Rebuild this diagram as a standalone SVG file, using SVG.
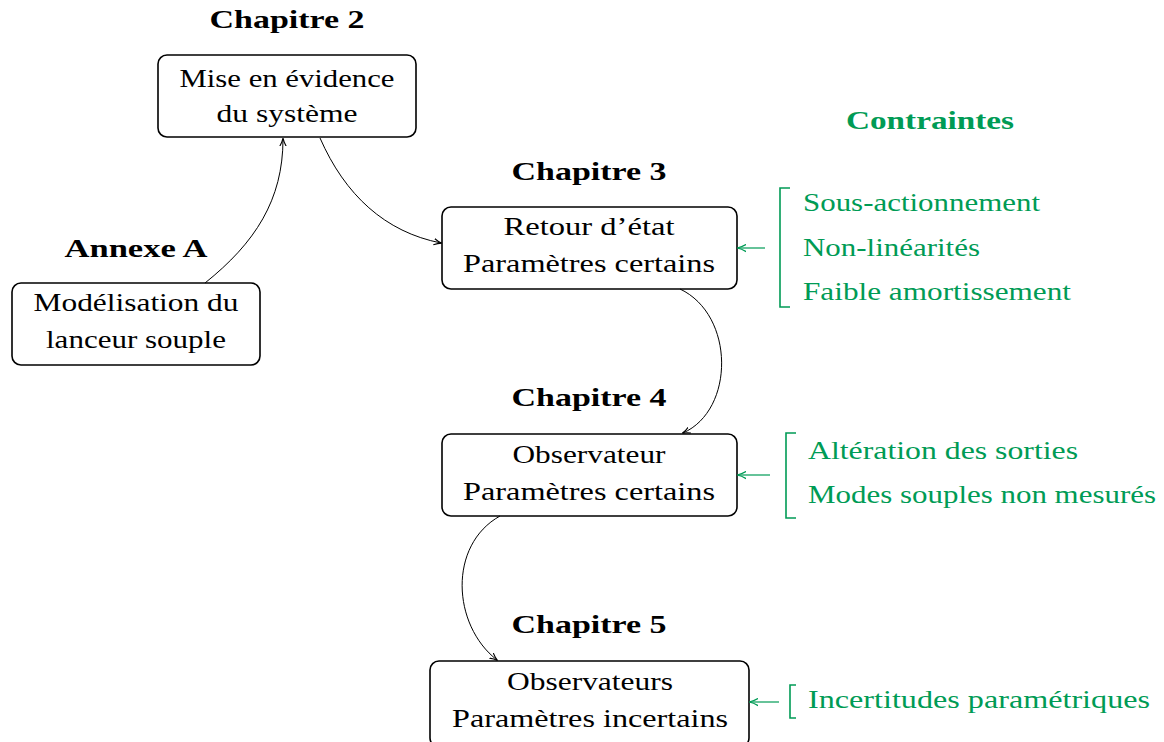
<svg xmlns="http://www.w3.org/2000/svg" width="1164" height="742" viewBox="0 0 1164 742">
<style>
.box{fill:#fff;stroke:#000;stroke-width:1.6}
.t{font-family:"Liberation Serif","DejaVu Serif",serif;font-size:25px;fill:#000}
.h{font-family:"Liberation Serif","DejaVu Serif",serif;font-size:25px;font-weight:bold;fill:#000}
.g{font-family:"Liberation Serif","DejaVu Serif",serif;font-size:25px;fill:#009B55}
.gh{font-family:"Liberation Serif","DejaVu Serif",serif;font-size:25px;font-weight:bold;fill:#009B55}
.c{fill:none;stroke:#000;stroke-width:1}
.gl{fill:none;stroke:#009B55;stroke-width:1.6}
.ga{fill:none;stroke:#009B55;stroke-width:1.2}
</style>
<defs>
<marker id="ah" viewBox="0 0 10 10" refX="9" refY="5" markerWidth="8" markerHeight="8" markerUnits="userSpaceOnUse" orient="auto">
<path d="M0,1 Q5,4 10,5 Q5,6 0,9" fill="none" stroke="#000" stroke-width="1.4"/>
</marker>
<marker id="gah" viewBox="0 0 10 10" refX="9" refY="5" markerWidth="9" markerHeight="9" markerUnits="userSpaceOnUse" orient="auto">
<path d="M0,1 Q5,4 10,5 Q5,6 0,9" fill="none" stroke="#009B55" stroke-width="1.4"/>
</marker>
</defs>

<text class="gh" x="930" y="129" text-anchor="middle" textLength="168" lengthAdjust="spacingAndGlyphs">Contraintes</text>

<g id="ch2">
<text class="h" x="287" y="28" text-anchor="middle" textLength="155" lengthAdjust="spacingAndGlyphs">Chapitre 2</text>
<rect class="box" x="158" y="55" width="258" height="82" rx="9"/>
<text class="t" x="287" y="87" text-anchor="middle" textLength="215" lengthAdjust="spacingAndGlyphs">Mise en évidence</text>
<text class="t" x="287" y="122" text-anchor="middle" textLength="141" lengthAdjust="spacingAndGlyphs">du système</text>
</g>

<g id="annexeA">
<text class="h" x="136" y="257" text-anchor="middle" textLength="143" lengthAdjust="spacingAndGlyphs">Annexe A</text>
<rect class="box" x="12" y="283" width="248" height="82" rx="9"/>
<text class="t" x="136" y="311" text-anchor="middle" textLength="205" lengthAdjust="spacingAndGlyphs">Modélisation du</text>
<text class="t" x="136" y="348" text-anchor="middle" textLength="180" lengthAdjust="spacingAndGlyphs">lanceur souple</text>
</g>

<g id="ch3">
<text class="h" x="589" y="180" text-anchor="middle" textLength="155" lengthAdjust="spacingAndGlyphs">Chapitre 3</text>
<rect class="box" x="442" y="207" width="295" height="82" rx="9"/>
<text class="t" x="589" y="235" text-anchor="middle" textLength="171" lengthAdjust="spacingAndGlyphs">Retour d’état</text>
<text class="t" x="589" y="272" text-anchor="middle" textLength="252" lengthAdjust="spacingAndGlyphs">Paramètres certains</text>
</g>

<g id="ch4">
<text class="h" x="589" y="406" text-anchor="middle" textLength="155" lengthAdjust="spacingAndGlyphs">Chapitre 4</text>
<rect class="box" x="442" y="434" width="295" height="82" rx="9"/>
<text class="t" x="589" y="463" text-anchor="middle" textLength="153" lengthAdjust="spacingAndGlyphs">Observateur</text>
<text class="t" x="589" y="500" text-anchor="middle" textLength="252" lengthAdjust="spacingAndGlyphs">Paramètres certains</text>
</g>

<g id="ch5">
<text class="h" x="589" y="633" text-anchor="middle" textLength="155" lengthAdjust="spacingAndGlyphs">Chapitre 5</text>
<rect class="box" x="430" y="661" width="319" height="86" rx="9"/>
<text class="t" x="590" y="690" text-anchor="middle" textLength="166" lengthAdjust="spacingAndGlyphs">Observateurs</text>
<text class="t" x="590" y="727" text-anchor="middle" textLength="276" lengthAdjust="spacingAndGlyphs">Paramètres incertains</text>
</g>

<g id="constraints3">
<path class="gl" d="M790,188 H780 V307 H790"/>
<line class="ga" x1="765" y1="248" x2="738" y2="248" marker-end="url(#gah)"/>
<text class="g" x="803" y="211" textLength="237" lengthAdjust="spacingAndGlyphs">Sous-actionnement</text>
<text class="g" x="803" y="256" textLength="177" lengthAdjust="spacingAndGlyphs">Non-linéarités</text>
<text class="g" x="803" y="300" textLength="268" lengthAdjust="spacingAndGlyphs">Faible amortissement</text>
</g>

<g id="constraints4">
<path class="gl" d="M796,433 H786 V518 H796"/>
<line class="ga" x1="770" y1="475" x2="738" y2="475" marker-end="url(#gah)"/>
<text class="g" x="808" y="459" textLength="270" lengthAdjust="spacingAndGlyphs">Altération des sorties</text>
<text class="g" x="808" y="503" textLength="348" lengthAdjust="spacingAndGlyphs">Modes souples non mesurés</text>
</g>

<g id="constraints5">
<path class="gl" d="M796,685 H790 V718 H796"/>
<line class="ga" x1="779" y1="702" x2="750" y2="702" marker-end="url(#gah)"/>
<text class="g" x="808" y="708" textLength="342" lengthAdjust="spacingAndGlyphs">Incertitudes paramétriques</text>
</g>

<g id="connectors">
<path class="c" d="M205,283 C255,243 283,200 283,139" marker-end="url(#ah)"/>
<path class="c" d="M320,138 C345,195 385,232 441,243" marker-end="url(#ah)"/>
<path class="c" d="M680,289 C735,315 735,410 683,433" marker-end="url(#ah)"/>
<path class="c" d="M500,516 C448,545 452,625 497,660" marker-end="url(#ah)"/>
</g>
</svg>
